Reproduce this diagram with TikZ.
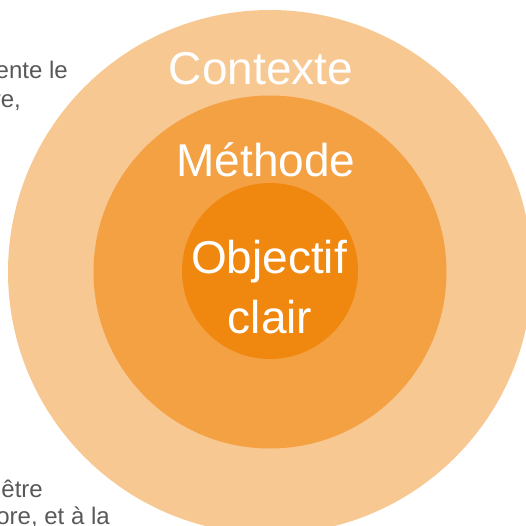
\documentclass[tikz,border=0pt]{standalone}
\usepackage{fontspec}
\setmainfont{Liberation Sans}
\definecolor{outerring}{RGB}{248,200,146}
\definecolor{midring}{RGB}{244,161,68}
\definecolor{corering}{RGB}{240,136,16}
\definecolor{bodygray}{RGB}{88,88,88}
\begin{document}
\begin{tikzpicture}[x=1pt, y=-1pt,
                    ring/.style = {shape = circle,
                                   inner sep = 0pt,
                                   draw = none},
                    bigword/.style = {text = white,
                                      inner sep = 0pt,
                                      anchor = base,
                                      font = \fontsize{46}{56}\selectfont},
                    sidetext/.style = {text = bodygray,
                                       inner sep = 0pt,
                                       anchor = base east,
                                       font = \fontsize{24}{28}\selectfont}]
	\useasboundingbox (0,0) rectangle (525,526);
	% rings
	\node[ring, fill = outerring, minimum size = 524pt] (contexte) at (270,272) {};
	\node[ring, fill = midring, minimum size = 353pt] (methode) at (270,272) {};
	\node[ring, fill = corering, minimum size = 176pt] (objectif) at (270,271) {};
	% labels
	\node[bigword] (ctxlabel) at (261,85) {Contexte};
	\node[bigword] (metlabel) at (266,177) {Méthode};
	\node[bigword] (objlabel) at (269,273) {Objectif};
	\node[bigword] (clairlabel) at (270,333) {clair};
	% cut text on the left
	\node[sidetext] (line1) at (68,79) {ente le};
	\node[sidetext] (line2) at (21,108) {re,};
	\node[sidetext] (line3) at (43,497) {être};
	\node[sidetext] (line4) at (110,524) {ore, et à la};
\end{tikzpicture}
\end{document}
